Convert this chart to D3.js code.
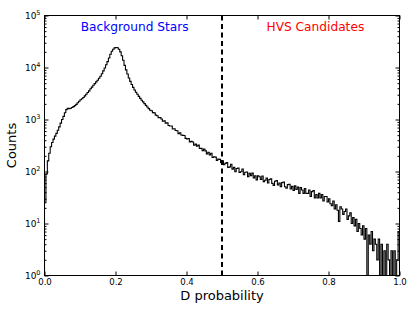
<!DOCTYPE html>
<html>
<head>
<meta charset="utf-8">
<script src="https://cdn.jsdelivr.net/npm/d3@7"></script>
<style>
  html, body { margin: 0; padding: 0; background: #fff; }
  svg { display: block; }
  text { font-family: "DejaVu Sans", sans-serif; }
</style>
</head>
<body>
<svg id="chart" width="415" height="312"></svg>
<script>
// ---- data ----
const binStart = 0.0;
const binWidth = 0.004;
const counts = [
  25, 90, 160, 225, 300, 360, 420, 480, 540, 620,
  720, 850, 1000, 1150, 1350, 1550, 1650, 1620, 1650, 1700,
  1770, 1850, 1950, 2100, 2250, 2400, 2500, 2650, 2850, 3050,
  3300, 3550, 3900, 4200, 4550, 4900, 5300, 5700, 6200, 6800,
  7600, 8600, 9800, 11300, 13000, 15200, 18000, 20500, 22500, 23800,
  24200, 24000, 22500, 20000, 16800, 13800, 11000, 9000, 7500, 6300,
  5400, 4700, 4150, 3700, 3350, 3050, 2780, 2550, 2350, 2180,
  2020, 1870, 1740, 1620, 1510, 1471, 1357, 1342, 1214, 1178,
  1085, 1085, 1022, 924, 941, 852, 861, 765, 752, 752,
  655, 663, 613, 608, 534, 558, 503, 495, 491, 434,
  423, 431, 370, 379, 369, 320, 336, 307, 321, 276,
  279, 252, 269, 249, 218, 235, 209, 224, 186, 192,
  189, 163, 173, 171, 147, 161, 135, 143, 149, 119,
  123, 138, 111, 120, 99, 114, 116, 96, 99, 112,
  87, 97, 98, 79, 92, 83, 93, 75, 83, 69,
  83, 79, 70, 82, 64, 68, 75, 60, 70, 72,
  59, 54, 65, 67, 55, 60, 51, 61, 63, 51,
  48, 56, 57, 46, 52, 43, 53, 45, 50, 38,
  49, 44, 38, 47, 38, 38, 44, 33, 41, 43,
  31, 36, 31, 38, 31, 36, 27, 33, 33, 26,
  30, 24, 22, 27, 19, 23, 18, 11, 21, 19,
  15, 17, 19, 12, 14, 16, 10, 13, 9, 12,
  7, 10, 8, 6, 9, 5, 8, 0, 6, 4,
  7, 3, 5, 4, 2, 5, 0, 4, 1, 3,
  0, 4, 2, 0, 3, 1, 3, 0, 2, 7
];
const xTickValues = [0.0, 0.2, 0.4, 0.6, 0.8, 1.0];
const yTickExponents = [0, 1, 2, 3, 4, 5];
const threshold = 0.5;
const annotations = [
  { text: "Background Stars", x: 0.254, y: 5.1e4, color: "#0000ff" },
  { text: "HVS Candidates", x: 0.763, y: 5.1e4, color: "#ff0000" }
];
const xLabel = "D probability";
const yLabel = "Counts";

// ---- layout ----
const L = 44.5, R = 399.5, T = 15.5, B = 275.5;
const svg = d3.select("#chart");

const x = d3.scaleLinear().domain([0, 1]).range([L, R]);
const y = d3.scaleLog().domain([1, 1e5]).range([B, T]).clamp(true);

svg.append("defs").append("clipPath").attr("id", "clip")
  .append("rect").attr("x", L).attr("y", T).attr("width", R - L).attr("height", B - T);

// histogram step outline
const floorVal = 0.5;
const pts = [{ e: binStart, c: floorVal }];
counts.forEach((c, i) => pts.push({ e: binStart + i * binWidth, c: Math.max(c, floorVal) }));
const lastEdge = binStart + counts.length * binWidth;
pts.push({ e: lastEdge, c: Math.max(counts[counts.length - 1], floorVal) });
pts.push({ e: lastEdge, c: floorVal });

const line = d3.line().x(d => x(d.e)).y(d => y(d.c)).curve(d3.curveStepAfter);
svg.append("path")
  .attr("clip-path", "url(#clip)")
  .attr("d", line(pts))
  .attr("fill", "none")
  .attr("stroke", "#000")
  .attr("stroke-width", 1.1)
  .attr("stroke-linejoin", "miter");

// dashed threshold line
svg.append("line")
  .attr("x1", x(threshold)).attr("x2", x(threshold))
  .attr("y1", T).attr("y2", B)
  .attr("stroke", "#000").attr("stroke-width", 2)
  .attr("stroke-dasharray", "5,3.5");

// axes (ticks inside)
const minorTicks = [];
for (let e = 0; e < 5; e++) for (let m = 2; m <= 9; m++) minorTicks.push(m * Math.pow(10, e));
const majorY = yTickExponents.map(e => Math.pow(10, e));

function styleAxis(g) {
  g.select(".domain").remove();
  g.selectAll(".tick line").attr("stroke", "#000").attr("stroke-width", 1);
}

svg.append("g").attr("transform", `translate(0,${B})`)
  .call(d3.axisBottom(x).tickValues(xTickValues).tickSize(-4).tickSizeOuter(0)
    .tickPadding(3).tickFormat(d3.format(".1f")))
  .call(styleAxis)
  .call(g => g.selectAll("text").attr("font-size", "8.6px").attr("fill", "#000")
    .attr("font-family", "DejaVu Sans, sans-serif"));

svg.append("g").attr("transform", `translate(0,${T})`)
  .call(d3.axisTop(x).tickValues(xTickValues).tickSize(-4).tickSizeOuter(0).tickFormat(""))
  .call(styleAxis);

svg.append("g").attr("transform", `translate(${L},0)`)
  .call(d3.axisLeft(y).tickValues(majorY).tickSize(-4).tickSizeOuter(0).tickFormat(""))
  .call(styleAxis);
svg.append("g").attr("transform", `translate(${L},0)`)
  .call(d3.axisLeft(y).tickValues(minorTicks).tickSize(-2).tickSizeOuter(0).tickFormat(""))
  .call(styleAxis);
svg.append("g").attr("transform", `translate(${R},0)`)
  .call(d3.axisRight(y).tickValues(majorY).tickSize(-4).tickSizeOuter(0).tickFormat(""))
  .call(styleAxis);
svg.append("g").attr("transform", `translate(${R},0)`)
  .call(d3.axisRight(y).tickValues(minorTicks).tickSize(-2).tickSizeOuter(0).tickFormat(""))
  .call(styleAxis);

// y tick labels 10^n
const yl = svg.append("g");
yTickExponents.forEach(e => {
  const t = yl.append("text")
    .attr("x", L - 4).attr("y", y(Math.pow(10, e)) + 3)
    .attr("text-anchor", "end").attr("font-size", "9px").attr("fill", "#000");
  t.append("tspan").text("10");
  t.append("tspan").attr("dy", -4).attr("font-size", "6.5px").text(String(e));
});

// frame
svg.append("rect").attr("x", L).attr("y", T).attr("width", R - L).attr("height", B - T)
  .attr("fill", "none").attr("stroke", "#000").attr("stroke-width", 1);

// annotations
annotations.forEach(a => {
  svg.append("text")
    .attr("x", x(a.x)).attr("y", y(a.y))
    .attr("text-anchor", "middle").attr("font-size", "12.2px").attr("fill", a.color)
    .text(a.text);
});

// axis labels
svg.append("text").attr("x", (L + R) / 2).attr("y", 300)
  .attr("text-anchor", "middle").attr("font-size", "13px").attr("fill", "#000").text(xLabel);
svg.append("text").attr("transform", `translate(16,${(T + B) / 2}) rotate(-90)`)
  .attr("text-anchor", "middle").attr("font-size", "13px").attr("fill", "#000").text(yLabel);
</script>
</body>
</html>
